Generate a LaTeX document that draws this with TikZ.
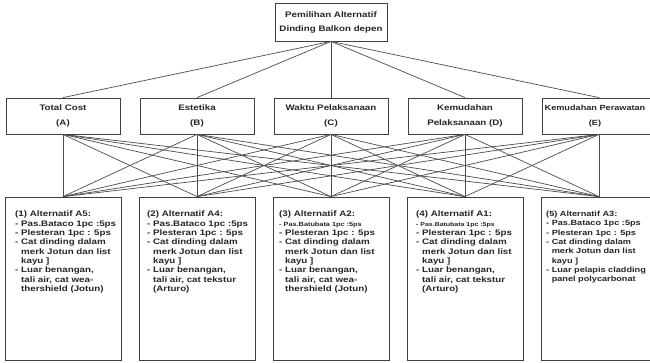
\documentclass[tikz,border=0pt]{standalone}
\usepackage{fontspec}
\setmainfont{Liberation Sans}[FakeStretch=1.22]
\begin{document}
\begin{tikzpicture}[x=1pt,y=-1pt,
  box/.style={draw=black!75, line width=0.8pt, inner sep=0pt},
  lvltwo/.style={box, minimum width=114pt, minimum height=36pt, align=center,
    font=\bfseries\fontsize{8}{15}\selectfont, text=black!85},
  alt/.style={box, minimum width=116pt, minimum height=163pt},
  alttext/.style={anchor=north west, inner sep=0pt, align=left,
    font=\bfseries\fontsize{8}{9.3}\selectfont, text=black!85},
  link/.style={draw=black!70, line width=0.7pt}]
\useasboundingbox (0,0) rectangle (650,363);
\fill[white] (0,0) rectangle (650,363);
% goal
\node[lvltwo, minimum width=112pt, minimum height=38pt,
  font=\bfseries\fontsize{8}{14}\selectfont] (top) at (331,22)
  {Pemilihan Alternatif\\Dinding Balkon depen};
% criteria
\node[lvltwo] (a) at (63,116) {Total Cost\\(A)};
\node[lvltwo] (b) at (197,116) {Estetika\\(B)};
\node[lvltwo] (c) at (331,116) {Waktu Pelaksanaan\\(C)};
\node[lvltwo] (d) at (465,116) {Kemudahan\\Pelaksanaan (D)};
\node[lvltwo] (e) at (599,116) {};
\node[align=center, inner sep=0pt, font=\bfseries\fontsize{7.5}{15}\selectfont,
  text=black!85] (etext) at (595,116) {Kemudahan Perawatan\\(E)};
% alternatives
\node[alt] (r1) at (63,278.5) {};
\node[alt] (r2) at (197,278.5) {};
\node[alt] (r3) at (331,278.5) {};
\node[alt] (r4) at (465,278.5) {};
\node[alt] (r5) at (599,278.5) {};
% links goal-criteria
\foreach \k in {a,b,c,d,e} \draw[link] (top.south) -- (\k.north);
% links criteria-alternatives
\foreach \k in {a,b,c,d,e}
  \foreach \r in {r1,r2,r3,r4,r5}
    \draw[link] (\k.south) -- (\r.north);
% texts
\node[alttext] (t1) at (15,211) {(1) Alternatif A5:\\
- Pas.Bataco 1pc :5ps\\
- Plesteran 1pc : 5ps\\
- Cat dinding dalam\\
\hphantom{- }merk Jotun dan list\\
\hphantom{- }kayu ]\\
- Luar benangan,\\
\hphantom{- }tali air, cat wea-\\
\hphantom{- }thershield (Jotun)};
\node[alttext] (t2) at (147,211) {(2) Alternatif A4:\\
- Pas.Bataco 1pc :5ps\\
- Plesteran 1pc : 5ps\\
- Cat dinding dalam\\
\hphantom{- }merk Jotun dan list\\
\hphantom{- }kayu ]\\
- Luar benangan,\\
\hphantom{- }tali air, cat tekstur\\
\hphantom{- }(Arturo)};
\node[alttext] (t3) at (279,211) {(3) Alternatif A2:\\
{\fontsize{6}{9.3}\selectfont - Pas.Batubata 1pc :5ps}\\
- Plesteran 1pc : 5ps\\
- Cat dinding dalam\\
\hphantom{- }merk Jotun dan list\\
\hphantom{- }kayu ]\\
- Luar benangan,\\
\hphantom{- }tali air, cat wea-\\
\hphantom{- }thershield (Jotun)};
\node[alttext] (t4) at (416,211) {(4) Alternatif A1:\\
{\fontsize{5.7}{9.3}\selectfont - Pas.Batubata 1pc :5ps}\\
- Plesteran 1pc : 5ps\\
- Cat dinding dalam\\
\hphantom{- }merk Jotun dan list\\
\hphantom{- }kayu ]\\
- Luar benangan,\\
\hphantom{- }tali air, cat tekstur\\
\hphantom{- }(Arturo)};
\node[alttext, font=\bfseries\fontsize{7.5}{9.3}\selectfont] (t5) at (546,211) {(5) Alternatif A3:\\
- Pas.Bataco 1pc :5ps\\
- Plesteran 1pc : 5ps\\
- Cat dinding dalam\\
\hphantom{- }merk Jotun dan list\\
\hphantom{- }kayu ]\\
- Luar pelapis cladding\\
\hphantom{- }panel polycarbonat};
\end{tikzpicture}
\end{document}
